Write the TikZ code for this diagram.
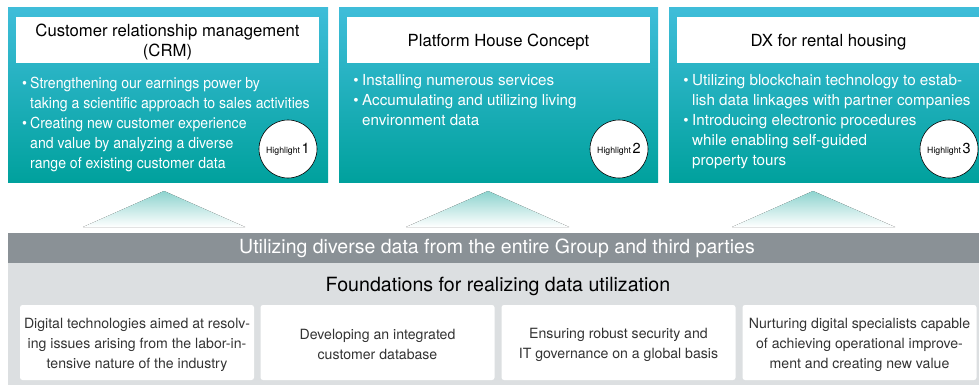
\documentclass[tikz,border=0pt]{standalone}
\usepackage{fontspec}
\setmainfont{TeX Gyre Heros}
\begin{document}
\definecolor{tealtop}{HTML}{3FBDD9}
\definecolor{tealmid}{HTML}{00B3C6}
\definecolor{tealbot}{HTML}{00A19D}
\definecolor{apex}{HTML}{8DD3CE}
\definecolor{banddark}{HTML}{8A9196}
\definecolor{bandlight}{HTML}{DCDFE1}
\definecolor{bodytext}{HTML}{333333}
\newcommand{\bul}{\llap{\textbullet\hspace{3.5pt}}}
\newcommand{\hl}[1]{{\fontsize{8.7}{9}\selectfont Highlight}\,{\fontsize{14.5}{15}\selectfont #1}}
\begin{tikzpicture}[x=1pt,y=-1pt,
  panel/.style={shade, top color=tealtop, middle color=tealmid, bottom color=tealbot, draw=none},
  titlebox/.style={fill=white, draw=none, minimum height=46pt, minimum width=303pt, inner sep=0pt},
  titletext/.style={inner sep=0pt, align=center, font=\fontsize{16.7}{20}\selectfont, text=black, yshift=-2.5pt},
  bullets/.style={anchor=north west, inner sep=0pt, align=left, text=white,
    font=\fontsize{15.2}{20.1}\selectfont},
  hlcircle/.style={circle, fill=white, draw=black, line width=0.6pt, minimum size=58pt, inner sep=0pt},
  basebox/.style={fill=white, rounded corners=2.5pt, draw=none, minimum width=234pt,
    minimum height=75pt, inner sep=0pt},
  basetext/.style={inner sep=0pt, align=center, text=bodytext,
    font=\fontsize{14.1}{20}\selectfont, yshift=-2pt},
  ramp/.style={shade, top color=apex, bottom color=white, draw=none}
]
\useasboundingbox (0,0) rectangle (979,385);

% three upper panels
\begin{scope}
\clip (0,0) rectangle (979,385);
\fill[panel] (8,8) rectangle (328,182);
\fill[panel] (339,8) rectangle (658,182);
\fill[panel] (669,8) rectangle (989,182);

\node[titlebox] (t1) at (167.5,40) {};
\node[titlebox] (t2) at (498.5,40) {};
\node[titlebox] (t3) at (828.5,40) {};
\node[titletext] (t1txt) at (t1.center) {Customer relationship management\\(CRM)};
\node[titletext] (t2txt) at (t2.center) {Platform House Concept};
\node[titletext] (t3txt) at (t3.center) {DX for rental housing};

\node[bullets] (b1) at (30,74) {\scalebox{0.925}[1]{\begin{tabular}{@{}l@{}}%
\bul Strengthening our earnings power by\\
taking a scientific approach to sales activities\\
\bul Creating new customer experience\\
and value by analyzing a diverse\\
range of existing customer data\end{tabular}}};
\node[bullets] (b2) at (362,74) {%
\bul Installing numerous services\\
\bul Accumulating and utilizing living\\
environment data};
\node[bullets] (b3) at (692,74) {%
\bul Utilizing blockchain technology to estab-\\
lish data linkages with partner companies\\
\bul Introducing electronic procedures\\
while enabling self-guided\\
property tours};

\node[hlcircle] (h1) at (288,149) {\hl{1}};
\node[hlcircle] (h2) at (619,149) {\hl{2}};
\node[hlcircle] (h3) at (949,149) {\hl{3}};
\end{scope}

% upward ramps
\fill[ramp] (83,227) -- (164,191) -- (245,227) -- cycle;
\fill[ramp] (406,227) -- (488,191) -- (569,227) -- cycle;
\fill[ramp] (732,227) -- (813,191) -- (895,227) -- cycle;

% foundation band
\fill[bandlight] (8,263) rectangle (979,385);
\node[fill=banddark, minimum width=971pt, minimum height=30pt, inner sep=0pt, anchor=north west] (band) at (8,233) {};
\node[text=white, font=\fontsize{19.5}{22}\selectfont, inner sep=0pt] (bandtxt) at (497,248.5)
  {Utilizing diverse data from the entire Group and third parties};
\node[text=black, font=\fontsize{19.6}{22}\selectfont, inner sep=0pt] (found) at (498,286)
  {Foundations for realizing data utilization};

\node[basebox] (f1) at (137,342.5) {};
\node[basebox] (f2) at (377.5,342.5) {};
\node[basebox] (f3) at (618.5,342.5) {};
\node[basebox] (f4) at (859.5,342.5) {};
\node[basetext] (f1txt) at (f1.center) {Digital technologies aimed at resolv-\\ing issues arising from the labor-in-\\tensive nature of the industry};
\node[basetext] (f2txt) at (f2.center) {Developing an integrated\\customer database};
\node[basetext] (f3txt) at (f3.center) {Ensuring robust security and\\IT governance on a global basis};
\node[basetext] (f4txt) at (f4.center) {Nurturing digital specialists capable\\of achieving operational improve-\\ment and creating new value};
\end{tikzpicture}
\end{document}
